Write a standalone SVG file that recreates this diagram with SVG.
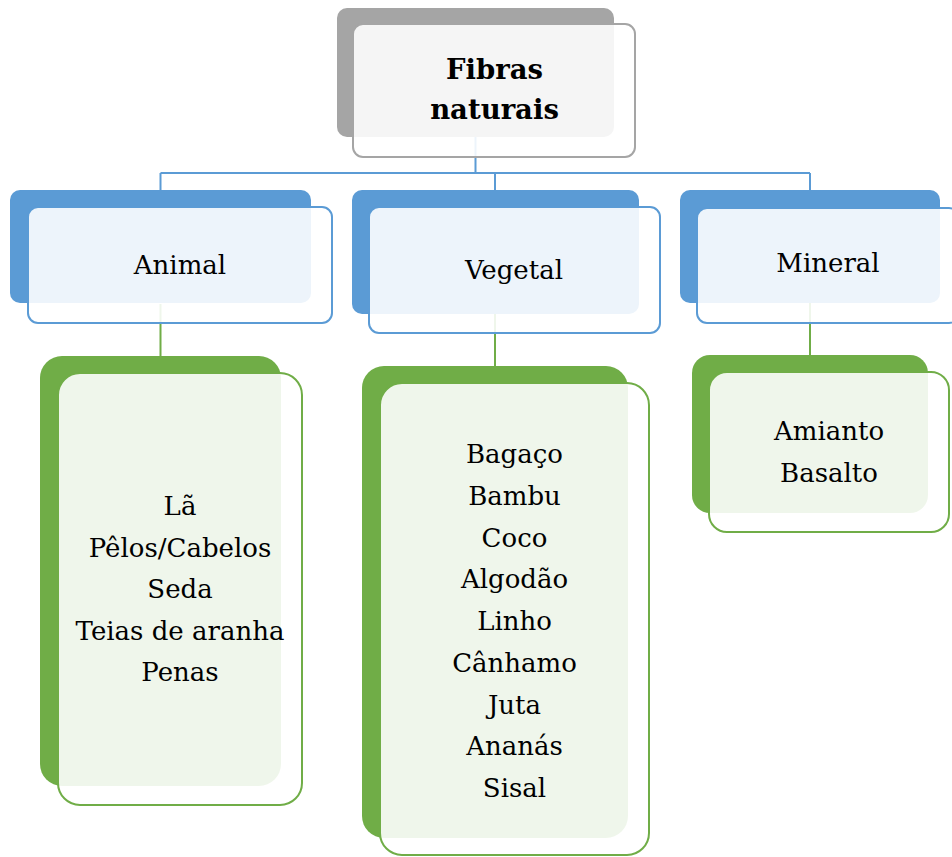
<svg xmlns="http://www.w3.org/2000/svg" width="952" height="857" viewBox="0 0 952 857">
  <style>
    text { font-family: "DejaVu Serif", "Liberation Serif", serif; font-size: 26px; fill: #000; text-anchor: middle; }
    .title { font-weight: bold; font-size: 27.5px; }
    .front { fill: #fff; fill-opacity: 0.89; stroke-width: 2; }
    .gray .back { fill: #A5A5A5; }
    .gray .front { stroke: #A5A5A5; }
    .blue .back { fill: #5B9BD5; }
    .blue .front { stroke: #5B9BD5; }
    .green .back { fill: #70AD47; }
    .green .front { stroke: #70AD47; }
    .link-blue { stroke: #5B9BD5; stroke-width: 2; fill: none; }
    .link-green { stroke: #70AD47; stroke-width: 2; fill: none; }
  </style>
  <rect width="952" height="857" fill="#fff"/>

  <!-- connectors -->
  <g id="connectors">
    <path class="link-blue" d="M475.5 137 V173 M160.5 173 H810 M160.5 173 V191 M495 173 V191 M810 173 V191"/>
    <path class="link-green" d="M160.5 304 V357 M495 314 V367 M810 303 V356"/>
  </g>

  <!-- root -->
  <g id="node-fibras" class="gray">
    <rect class="back" x="337" y="8" width="277" height="129" rx="10"/>
    <rect class="front" x="353" y="24" width="282" height="133" rx="10"/>
    <text class="title" x="494.5" y="79">Fibras</text>
    <text class="title" x="494.5" y="119">naturais</text>
  </g>

  <!-- categories -->
  <g id="node-animal" class="blue">
    <rect class="back" x="10" y="190" width="301" height="113" rx="10"/>
    <rect class="front" x="28" y="207" width="304" height="116" rx="10"/>
    <text x="180" y="274">Animal</text>
  </g>
  <g id="node-vegetal" class="blue">
    <rect class="back" x="352" y="190" width="287" height="124" rx="10"/>
    <rect class="front" x="369" y="207" width="291" height="126" rx="10"/>
    <text x="514" y="279">Vegetal</text>
  </g>
  <g id="node-mineral" class="blue">
    <rect class="back" x="680" y="190" width="260" height="113" rx="10"/>
    <rect class="front" x="697" y="208" width="262" height="115" rx="10"/>
    <text x="828" y="272">Mineral</text>
  </g>

  <!-- fibre lists -->
  <g id="node-animal-list" class="green">
    <rect class="back" x="40" y="356" width="241" height="430" rx="22"/>
    <rect class="front" x="58" y="373" width="244" height="432" rx="22"/>
    <text x="180" y="515">Lã</text>
    <text x="180" y="556.5">Pêlos/Cabelos</text>
    <text x="180" y="598">Seda</text>
    <text x="180" y="639.5">Teias de aranha</text>
    <text x="180" y="681">Penas</text>
  </g>
  <g id="node-vegetal-list" class="green">
    <rect class="back" x="362" y="366" width="266" height="472" rx="22"/>
    <rect class="front" x="380" y="383" width="269" height="472" rx="22"/>
    <text x="514.5" y="463">Bagaço</text>
    <text x="514.5" y="504.75">Bambu</text>
    <text x="514.5" y="546.5">Coco</text>
    <text x="514.5" y="588.25">Algodão</text>
    <text x="514.5" y="630">Linho</text>
    <text x="514.5" y="671.75">Cânhamo</text>
    <text x="514.5" y="713.5">Juta</text>
    <text x="514.5" y="755.25">Ananás</text>
    <text x="514.5" y="797">Sisal</text>
  </g>
  <g id="node-mineral-list" class="green">
    <rect class="back" x="692" y="355" width="236" height="158" rx="18"/>
    <rect class="front" x="709" y="372" width="240" height="160" rx="18"/>
    <text x="829" y="440">Amianto</text>
    <text x="829" y="482">Basalto</text>
  </g>
</svg>
